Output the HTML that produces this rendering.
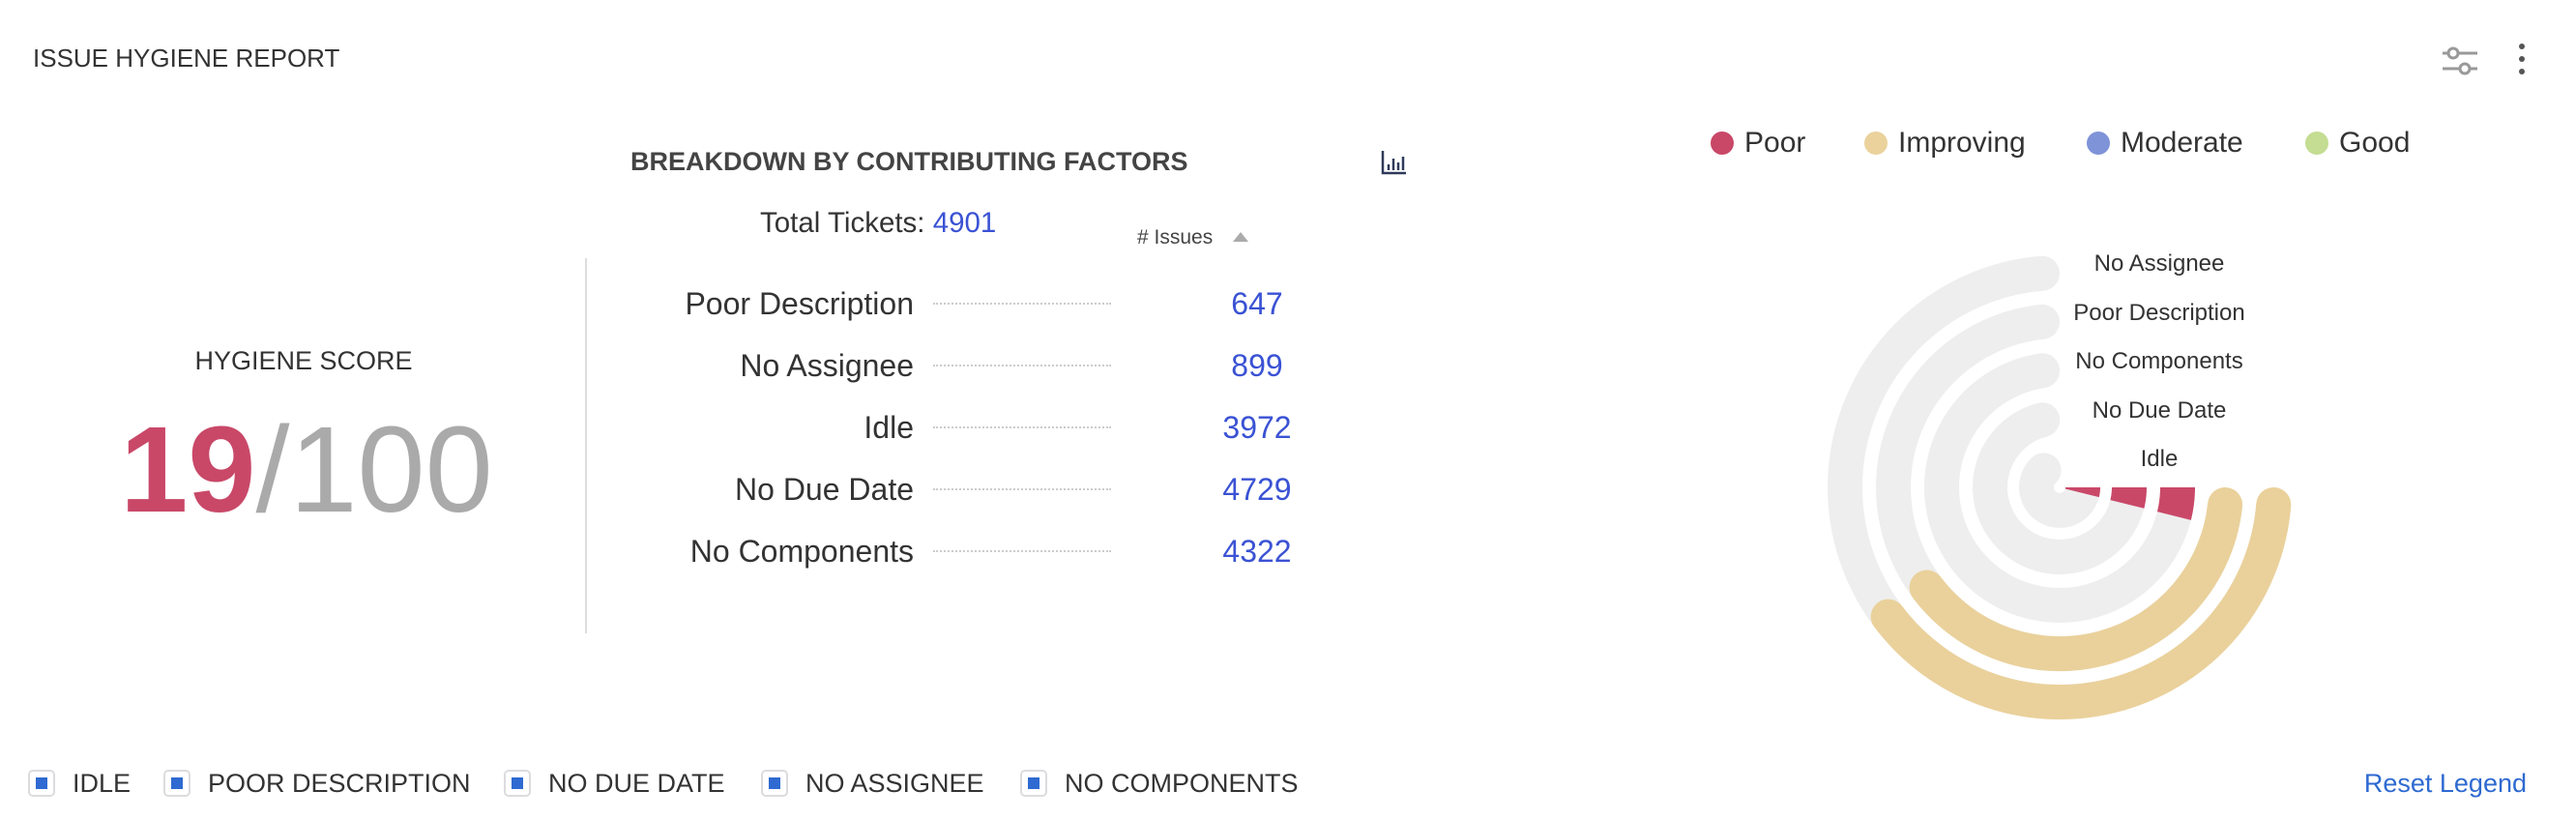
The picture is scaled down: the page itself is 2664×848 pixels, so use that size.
<!DOCTYPE html>
<html><head><meta charset="utf-8">
<style>
html,body{margin:0;padding:0;background:#fff;}
body{width:2664px;height:848px;position:relative;overflow:hidden;font-family:"Liberation Sans",sans-serif;color:#333;}
.a{position:absolute;white-space:nowrap;}
.blue{color:#3a52d4;}
.dot{position:absolute;width:24px;height:24px;border-radius:50%;top:136px;}
.lt{top:131px;font-size:30px;color:#333;}
.cb{position:absolute;width:24px;height:24px;border:2px solid #dcdcdf;border-radius:5px;top:796px;}
.cb i{position:absolute;left:6px;top:6px;width:12px;height:12px;background:#2e6ad1;}
.lg{top:795px;font-size:27px;color:#333;}
</style></head><body>
<div class="a" style="left:34px;top:45px;font-size:26px;color:#333;">ISSUE HYGIENE REPORT</div>
<svg class="a" style="left:2524px;top:44px" width="40" height="36" viewBox="0 0 40 36">
<line x1="2" y1="11" x2="38" y2="11" stroke="#999" stroke-width="3"/>
<line x1="2" y1="27" x2="38" y2="27" stroke="#999" stroke-width="3"/>
<circle cx="13" cy="11" r="5" fill="#fff" stroke="#999" stroke-width="3"/>
<circle cx="25" cy="27" r="5" fill="#fff" stroke="#999" stroke-width="3"/></svg>
<svg class="a" style="left:2600px;top:42px" width="16" height="40"><circle cx="8" cy="6" r="3" fill="#555"/><circle cx="8" cy="19" r="3" fill="#555"/><circle cx="8" cy="32" r="3" fill="#555"/></svg>

<div class="dot" style="left:1769px;background:#c94868"></div><div class="a lt" style="left:1804px">Poor</div>
<div class="dot" style="left:1928px;background:#ebd29c"></div><div class="a lt" style="left:1963px">Improving</div>
<div class="dot" style="left:2158px;background:#7f93d8"></div><div class="a lt" style="left:2193px">Moderate</div>
<div class="dot" style="left:2384px;background:#c4dd92"></div><div class="a lt" style="left:2419px">Good</div>

<div class="a" style="left:652px;top:152px;font-size:27px;font-weight:bold;color:#444;">BREAKDOWN BY CONTRIBUTING FACTORS</div>
<svg class="a" style="left:1428px;top:154px" width="28" height="28"><path d="M2 2 V25 H26" fill="none" stroke="#2f3a5a" stroke-width="2.5"/><path d="M8 22 V16 M13 22 V10 M18 22 V14 M23 22 V8" stroke="#2f3a5a" stroke-width="2.5"/></svg>

<div class="a" style="left:786px;top:214px;font-size:29.5px;color:#333;">Total Tickets: <span class="blue">4901</span></div>
<div class="a" style="left:1176px;top:234px;font-size:21px;color:#444;"># Issues</div>
<svg class="a" style="left:1274px;top:238px" width="18" height="14"><polygon points="9,2 17,12 1,12" fill="#aaa"/></svg>

<div class="a" style="left:605px;top:267px;width:2px;height:388px;background:#ddd;"></div>

<div class="a" style="left:0;width:628px;text-align:center;top:358px;font-size:27px;color:#333;">HYGIENE SCORE</div>
<div class="a" style="left:0;width:634px;text-align:center;top:416px;font-size:126px;line-height:140px;"><span style="color:#c94868;font-weight:bold;">19</span><span style="color:#aaa;">/100</span></div>

<div class="a" style="left:600px;top:282px;width:345px;text-align:right;font-size:32px;line-height:64px;color:#333;">Poor Description<br>No Assignee<br>Idle<br>No Due Date<br>No Components</div>
<div class="a" style="left:965px;top:313px;width:184px;height:0;border-top:2px dotted #ccc;"></div>
<div class="a" style="left:965px;top:377px;width:184px;height:0;border-top:2px dotted #ccc;"></div>
<div class="a" style="left:965px;top:441px;width:184px;height:0;border-top:2px dotted #ccc;"></div>
<div class="a" style="left:965px;top:505px;width:184px;height:0;border-top:2px dotted #ccc;"></div>
<div class="a" style="left:965px;top:569px;width:184px;height:0;border-top:2px dotted #ccc;"></div>
<div class="a blue" style="left:1200px;top:282px;width:200px;text-align:center;font-size:32px;line-height:64px;">647<br>899<br>3972<br>4729<br>4322</div>

<svg id="rad" class="a" style="left:1864px;top:237px" width="550" height="530"></svg>
<div class="a" style="left:2078px;top:248px;width:310px;text-align:center;font-size:24px;line-height:50.5px;color:#333;">No Assignee<br>Poor Description<br>No Components<br>No Due Date<br>Idle</div>

<div class="cb" style="left:29px"><i></i></div><div class="a lg" style="left:75px">IDLE</div>
<div class="cb" style="left:169px"><i></i></div><div class="a lg" style="left:215px">POOR DESCRIPTION</div>
<div class="cb" style="left:521px"><i></i></div><div class="a lg" style="left:567px">NO DUE DATE</div>
<div class="cb" style="left:787px"><i></i></div><div class="a lg" style="left:833px">NO ASSIGNEE</div>
<div class="cb" style="left:1055px"><i></i></div><div class="a lg" style="left:1101px">NO COMPONENTS</div>
<div class="a" style="right:51px;top:795px;font-size:27px;color:#2e6ad1;">Reset Legend</div>

<script>
var s=document.getElementById('rad'),cx=266,cy=267,W=36,o='';
function P(r,a){a=a*Math.PI/180;return (cx+r*Math.cos(a)).toFixed(1)+' '+(cy+r*Math.sin(a)).toFixed(1);}
function arc(r,a0,a1,c,cap){var l=(a1-a0)>180?1:0;return '<path d="M'+P(r,a0)+' A'+r+' '+r+' 0 '+l+' 1 '+P(r,a1)+'" fill="none" stroke="'+c+'" stroke-width="'+W+'" stroke-linecap="'+cap+'"/>';}
var rs=[222,172,122,72,24];
rs.forEach(function(r,i){var d=18/r*180/Math.PI;var e=270-d;var st=i<2?d:0;o+=arc(r,st,e,'#eeeeee','butt');var p=P(r,e).split(' ');o+='<circle cx="'+p[0]+'" cy="'+p[1]+'" r="18" fill="#eeeeee"/>';});
[222,172].forEach(function(r){var d=18/r*180/Math.PI;o+=arc(r,d,143,'#ead19b','round');});
[122,72,24].forEach(function(r){o+=arc(r,0,14,'#c94868','butt');});
s.innerHTML=o;
</script>
</body></html>
